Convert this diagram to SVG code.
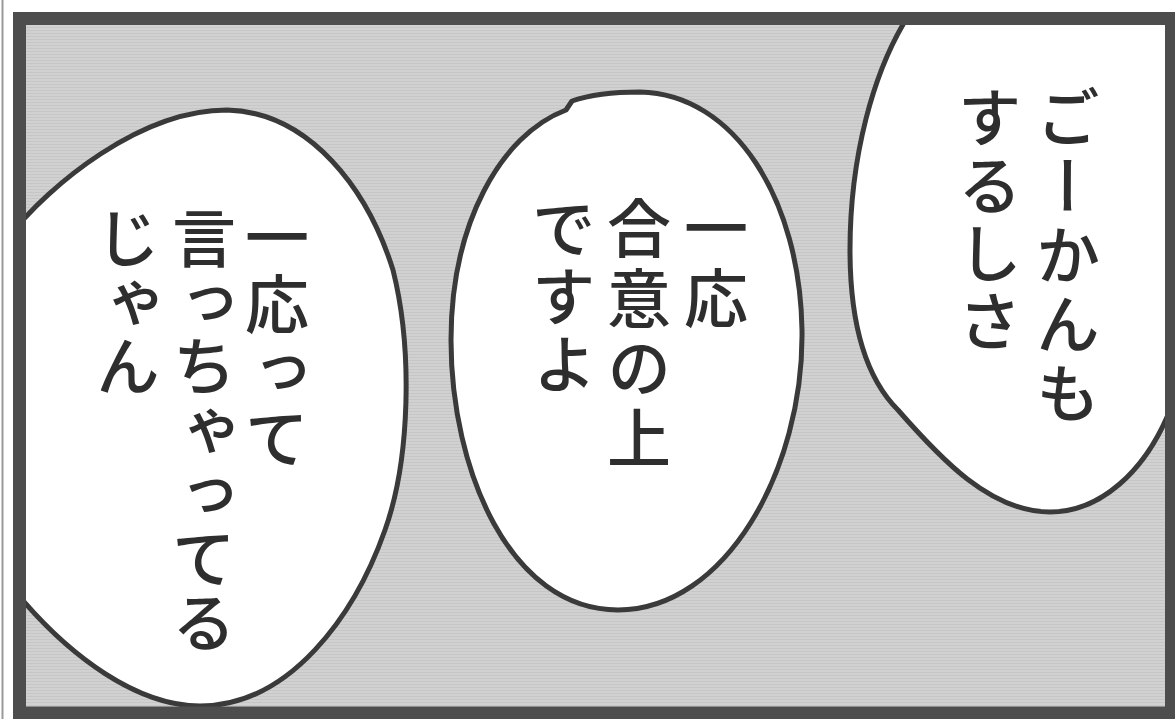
<svg xmlns="http://www.w3.org/2000/svg" width="1175" height="719" viewBox="0 0 1175 719">
  <defs>
    <pattern id="tone" width="6" height="3" patternUnits="userSpaceOnUse">
      <rect width="6" height="3" fill="#d1d1d1"/>
      <rect y="0" width="6" height="1" fill="#c6c6c6"/>
    </pattern>
    <clipPath id="inner">
      <rect x="26" y="25" width="1139" height="682"/>
    </clipPath>
    <style>
      .bubble { fill: #ffffff; stroke: #3a3a3a; stroke-width: 5; stroke-linejoin: round; }
      .vt { font-family: "Noto Sans CJK JP", "Noto Sans CJK SC", sans-serif; font-size: 64px; font-weight: 500; fill: #2e2e2e; writing-mode: vertical-rl; }
    </style>
  </defs>
  <rect width="1175" height="719" fill="#ffffff"/>
  <line x1="2.5" y1="0" x2="2.5" y2="719" stroke="#9a9a9a" stroke-width="2"/>
  <rect x="26" y="25" width="1139" height="682" fill="url(#tone)"/>

  <g clip-path="url(#inner)">
    <g id="bubble-left">
      <path class="bubble" d="M 10,235 C 50,185 140,110 227,110 C 310,112 368,190 393,270 C 413,350 410,460 385,530 C 355,615 290,706 200,706 C 140,706 70,660 10,585 Z"/>
    </g>
    <g id="bubble-middle">
      <path class="bubble" d="M 640,92 C 735,94 800,200 802,330 C 804,470 725,610 618,610 C 510,610 451,470 451,340 C 451,225 500,135 566,110 L 572,101 C 592,94 615,92 640,92 Z"/>
    </g>
    <g id="bubble-right">
      <path class="bubble" d="M 912,10 C 872,70 850,160 850,250 C 850,330 868,380 898,410 C 940,458 990,512 1050,512 C 1100,512 1145,472 1170,410 L 1190,10 Z"/>
    </g>
  </g>

  <g id="text-left">
    <text class="vt" x="277" y="205" letter-spacing="3">一応って</text>
    <text class="vt" x="204" y="206" letter-spacing="0">言っちゃってる</text>
    <text class="vt" x="128" y="206" letter-spacing="0">じゃん</text>
  </g>
  <g id="text-middle">
    <text class="vt" x="716" y="196" letter-spacing="6">一応</text>
    <text class="vt" x="639" y="196" letter-spacing="6">合意の上</text>
    <text class="vt" x="564" y="196" letter-spacing="4">ですよ</text>
  </g>
  <g id="text-right">
    <text class="vt" x="1068" y="85" letter-spacing="5">ごーかんも</text>
    <text class="vt" x="990" y="85" letter-spacing="4">するしさ</text>
  </g>

  <rect id="frame" x="19.5" y="18.5" width="1152" height="694.5" fill="none" stroke="#4d4d4d" stroke-width="13"/>
</svg>
